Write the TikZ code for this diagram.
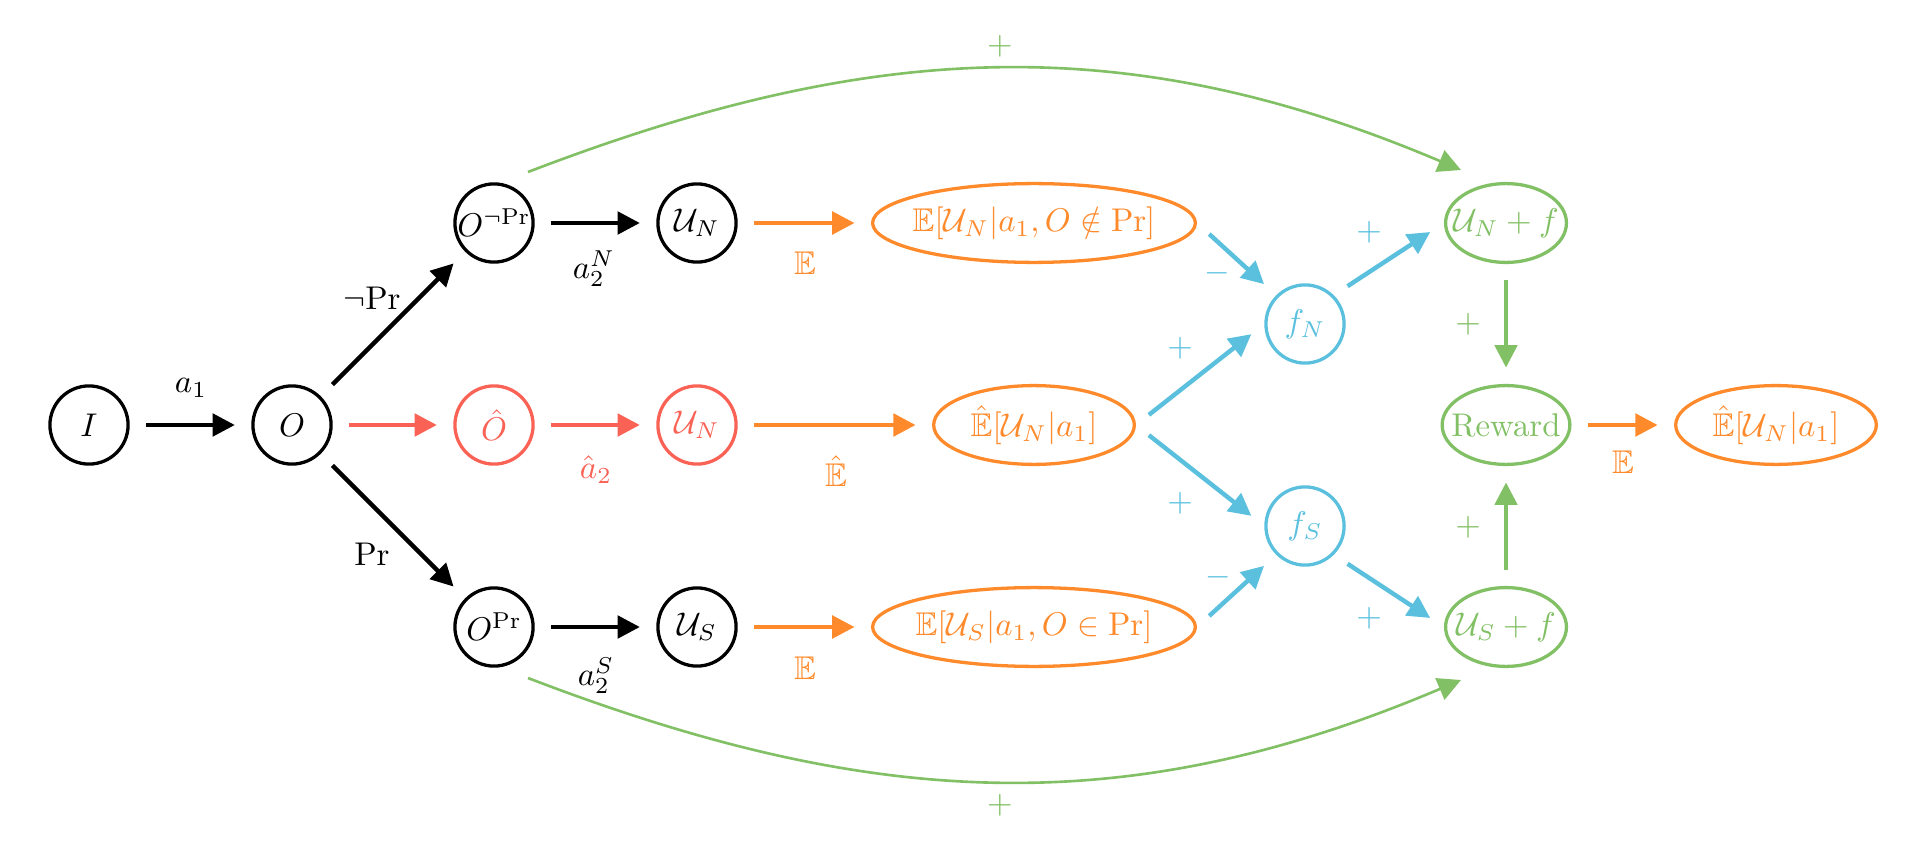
\documentclass[tikz,border=0pt]{standalone}
\usepackage{amssymb}
\usetikzlibrary{arrows.meta,shapes.geometric,calc}
\definecolor{cred}{HTML}{FA6255}
\definecolor{corange}{HTML}{FF8A2B}
\definecolor{ccyan}{HTML}{5BC0DE}
\definecolor{cgreen}{HTML}{82C065}
\newcommand\nt[1]{\makebox[0pt]{#1}}
\begin{document}
\begin{tikzpicture}[x=0.3045pt,y=0.3045pt,
  nd/.style={circle, draw, line width=1pt, minimum size=23.8pt, inner sep=0pt},
  el/.style={ellipse, draw, line width=1pt, inner sep=0pt, minimum height=24pt},
  arr/.style={line width=1.35pt, -{Triangle[length=6.8pt,width=6.8pt]}, shorten <=5pt, shorten >=5pt},
  garr/.style={line width=1.1pt, cgreen, -{Triangle[length=6.8pt,width=6.8pt]}, shorten <=5pt, shorten >=5pt},
  garc/.style={line width=0.8pt, cgreen, -{Triangle[length=7pt,width=7pt]}},
  lbl/.style={inner sep=0pt}]
\useasboundingbox (0,0) rectangle (1920,852);
% nodes
\node[nd] (I) at (89,427) {\nt{$I$}};
\node[nd] (O) at (292,427) {\nt{$O$}};
\node[nd] (Oneg) at (494,629) {\nt{$O^{\neg\mathrm{Pr}}$}};
\node[nd, cred] (Ohat) at (494,427) {\nt{$\hat{O}$}};
\node[nd] (Opos) at (494,225) {\nt{$O^{\mathrm{Pr}}$}};
\node[nd] (UN) at (697,629) {\nt{$\mathcal{U}_N$}};
\node[nd, cred] (UNr) at (697,427) {\nt{$\mathcal{U}_N$}};
\node[nd] (US) at (697,225) {\nt{$\mathcal{U}_S$}};
\node[el, corange, minimum width=98.3pt] (EN) at (1034,629) {\nt{$\mathbb{E}[\mathcal{U}_N|a_1, O\notin\mathrm{Pr}]$}};
\node[el, corange, minimum width=61.1pt] (EH) at (1034,427) {\nt{$\hat{\mathbb{E}}[\mathcal{U}_N|a_1]$}};
\node[el, corange, minimum width=98.3pt] (ES) at (1034,225) {\nt{$\mathbb{E}[\mathcal{U}_S|a_1, O\in\mathrm{Pr}]$}};
\node[nd, ccyan] (fN) at (1305,528) {\nt{$f_N$}};
\node[nd, ccyan] (fS) at (1305,326) {\nt{$f_S$}};
\node[el, cgreen, minimum width=36.8pt] (UNf) at (1506,629) {\nt{$\mathcal{U}_N+f$}};
\node[el, cgreen, minimum width=38.9pt] (Rew) at (1506,427) {\nt{Reward}};
\node[el, cgreen, minimum width=36.8pt] (USf) at (1506,225) {\nt{$\mathcal{U}_S+f$}};
\node[el, corange, minimum width=61.1pt] (EH2) at (1776,427) {\nt{$\hat{\mathbb{E}}[\mathcal{U}_N|a_1]$}};
% edges
\draw[arr] (I) -- (O);
\draw[arr] (O) -- (Oneg);
\draw[arr, cred] (O) -- (Ohat);
\draw[arr] (O) -- (Opos);
\draw[arr] (Oneg) -- (UN);
\draw[arr, cred] (Ohat) -- (UNr);
\draw[arr] (Opos) -- (US);
\draw[arr, corange] (UN) -- (EN);
\draw[arr, corange] (UNr) -- (EH);
\draw[arr, corange] (US) -- (ES);
\draw[arr, ccyan] (EN.east) -- (fN.north west);
\draw[arr, ccyan] (EH.east) -- (fN.west);
\draw[arr, ccyan] (EH.east) -- (fS.west);
\draw[arr, ccyan] (ES.east) -- (fS.south west);
\draw[arr, ccyan] (fN.north east) -- (UNf.west);
\draw[arr, ccyan] (fS.south east) -- (USf.west);
\draw[garr] (UNf) -- (Rew);
\draw[garr] (USf) -- (Rew);
\draw[arr, corange] (Rew) -- (EH2);
\draw[garc] ($(Oneg)+(34,51)$) to[out=21,in=157] ($(UNf)+(-45,53)$);
\draw[garc] ($(Opos)+(34,-51)$) to[out=-21,in=-157] ($(USf)+(-45,-53)$);
% labels
\node[lbl] (la1) at (191,464) {$a_1$};
\node[lbl] (lneg) at (372,554) {$\neg\mathrm{Pr}$};
\node[lbl] (lpos) at (372,298) {$\mathrm{Pr}$};
\node[lbl] (la2N) at (594,583) {$a_2^N$};
\node[lbl, cred] (la2h) at (596,382) {$\hat{a}_2$};
\node[lbl] (la2S) at (596,176) {$a_2^S$};
\node[lbl, corange] (lE1) at (805,589) {$\mathbb{E}$};
\node[lbl, corange] (lE2) at (836,381) {$\hat{\mathbb{E}}$};
\node[lbl, corange] (lE3) at (805,184) {$\mathbb{E}$};
\node[lbl, corange] (lE4) at (1623,390) {$\mathbb{E}$};
\node[lbl, ccyan] (lc1) at (1217,579) {$-$};
\node[lbl, ccyan] (lc2) at (1180,504) {$+$};
\node[lbl, ccyan] (lc3) at (1180,349) {$+$};
\node[lbl, ccyan] (lc4) at (1218,275) {$-$};
\node[lbl, ccyan] (lc5) at (1369,620) {$+$};
\node[lbl, ccyan] (lc6) at (1369,234) {$+$};
\node[lbl, cgreen] (lg1) at (1468,528) {$+$};
\node[lbl, cgreen] (lg2) at (1468,325) {$+$};
\node[lbl, cgreen] (lg3) at (1000,806) {$+$};
\node[lbl, cgreen] (lg4) at (1000,47) {$+$};
\end{tikzpicture}
\end{document}
